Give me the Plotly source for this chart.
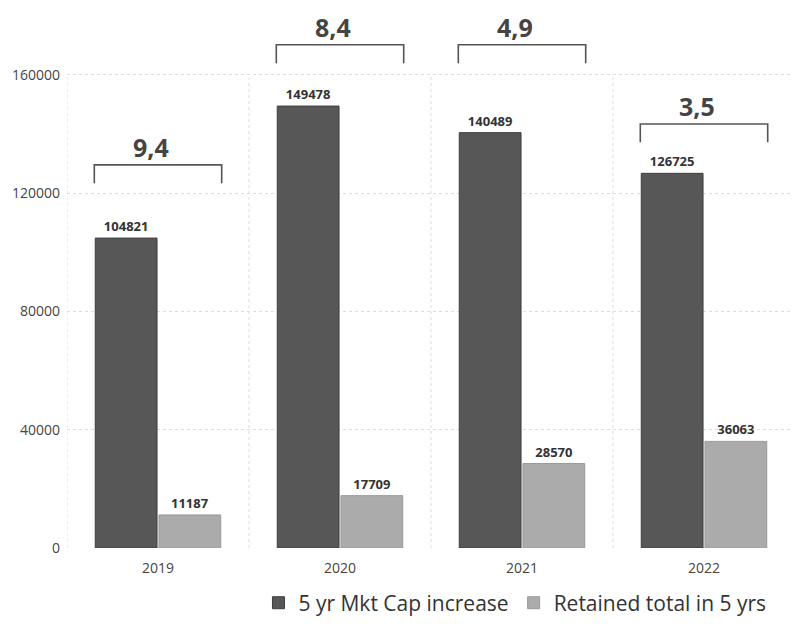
"""Grouped bar chart: 5 yr market cap increase vs retained earnings, with ratio brackets."""

import plotly.graph_objects as go

years = ["2019", "2020", "2021", "2022"]
mkt_cap_increase = [104821, 149478, 140489, 126725]
retained_total = [11187, 17709, 28570, 36063]
ratio_labels = ["9,4", "8,4", "4,9", "3,5"]
bracket_levels = [129600, 170200, 170200, 143400]

DARK = "#575757"
LIGHT = "#ababab"
FONT = "Open Sans, Lato, sans-serif"

fig = go.Figure()
fig.add_trace(
    go.Bar(
        x=years,
        y=mkt_cap_increase,
        name="5 yr Mkt Cap increase",
        marker={"color": DARK, "line": {"color": "#3e3e3e", "width": 1}},
        text=[str(v) for v in mkt_cap_increase],
        textposition="outside",
        textfont={"size": 13, "color": "#333333", "family": FONT, "weight": "bold"},
        cliponaxis=False,
    )
)
fig.add_trace(
    go.Bar(
        x=years,
        y=retained_total,
        name="Retained total in 5 yrs",
        marker={"color": LIGHT, "line": {"color": "#9a9a9a", "width": 1}},
        text=[str(v) for v in retained_total],
        textposition="outside",
        textfont={"size": 13, "color": "#333333", "family": FONT, "weight": "bold"},
        cliponaxis=False,
    )
)

# brackets over each year group with the ratio label
half = 0.35
drop = 6200
for i, (level, label) in enumerate(zip(bracket_levels, ratio_labels)):
    fig.add_shape(
        type="path",
        xref="x",
        yref="y",
        path=f"M {i - half} {level - drop} L {i - half} {level} L {i + half} {level} L {i + half} {level - drop}",
        line={"color": "#555555", "width": 1.6},
    )
    fig.add_annotation(
        x=i,
        y=level - 300,
        xshift=-7,
        text=label,
        showarrow=False,
        yanchor="bottom",
        font={"size": 25, "color": "#444444", "family": FONT, "weight": "bold"},
    )

# dotted vertical separators between year groups
for pos in [-0.5, 0.5, 1.5, 2.5, 3.5]:
    fig.add_shape(
        type="line",
        xref="x",
        yref="y",
        x0=pos,
        x1=pos,
        y0=0,
        y1=160000,
        line={"color": "#dddddd", "width": 1, "dash": "dot"},
        layer="below",
    )

# page body keeps an 8px margin, so the figure is sized to fit inside it
fig.update_layout(
    width=791,
    height=625,
    template="plotly_white",
    plot_bgcolor="white",
    paper_bgcolor="white",
    barmode="group",
    bargap=0.3,
    bargroupgap=0.03,
    font={"family": FONT, "size": 14, "color": "#444444"},
    margin={"l": 59, "r": 4, "t": 30, "b": 85, "autoexpand": False},
    legend={
        "orientation": "h",
        "x": 0.263,
        "xanchor": "left",
        "y": -0.108,
        "yanchor": "middle",
        "font": {"size": 21, "color": "#333333"},
    },
)
fig.update_xaxes(
    showgrid=False,
    showline=False,
    ticks="",
    tickfont={"size": 14, "color": "#444444"},
    ticklabelstandoff=10,
    range=[-0.5, 3.5],
)
fig.update_yaxes(
    range=[0, 172500],
    tickvals=[0, 40000, 80000, 120000, 160000],
    ticktext=["0", "40000", "80000", "120000", "160000"],
    showgrid=True,
    gridcolor="#dddddd",
    griddash="dot",
    zeroline=False,
    showline=False,
    tickfont={"size": 14, "color": "#444444"},
    ticklabelstandoff=6,
)

fig.write_html("out.html")
